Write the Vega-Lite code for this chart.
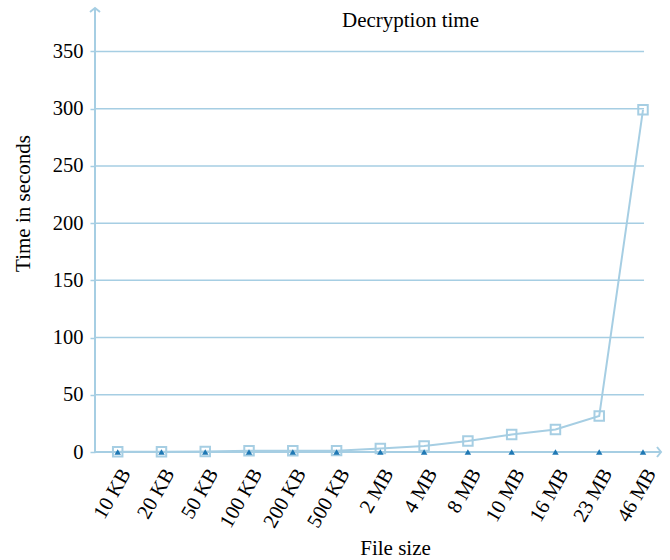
{
  "$schema": "https://vega.github.io/schema/vega-lite/v6.json",
  "width": 566,
  "height": 444,
  "autosize": {"type": "none"},
  "padding": {"left": 95, "top": 8, "right": 9, "bottom": 108},
  "background": "white",
  "config": {
    "view": {"stroke": null},
    "font": "Liberation Serif",
    "axisY": {
      "domain": false,
      "grid": false,
      "ticks": true,
      "tickSize": 5,
      "tickColor": "#a6cee3",
      "tickWidth": 1.5,
      "labelFont": "Liberation Serif",
      "labelFontSize": 20.5,
      "labelColor": "black",
      "labelPadding": 7,
      "titleFont": "Liberation Serif",
      "titleFontSize": 21,
      "titleFontWeight": "normal",
      "titleColor": "black",
      "titleAngle": -90,
      "titleAlign": "center",
      "titleBaseline": "middle",
      "titleX": -72,
      "titleY": 195
    },
    "axisX": {
      "domain": false,
      "grid": false,
      "ticks": false,
      "labelFont": "Liberation Serif",
      "labelFontSize": 20.5,
      "labelColor": "black",
      "labelAngle": -60,
      "labelAlign": "right",
      "labelBaseline": "middle",
      "labelPadding": 18,
      "labelOffset": 8,
      "titleFont": "Liberation Serif",
      "titleFontSize": 21,
      "titleFontWeight": "normal",
      "titleColor": "black",
      "titleAlign": "center",
      "titleBaseline": "alphabetic",
      "titleX": 300,
      "titleY": 102
    }
  },
  "datasets": {
    "timings": [
      {"size": "10 KB", "method": "Method 1", "time": 0.2},
      {"size": "20 KB", "method": "Method 1", "time": 0.3},
      {"size": "50 KB", "method": "Method 1", "time": 0.4},
      {"size": "100 KB", "method": "Method 1", "time": 1.0},
      {"size": "200 KB", "method": "Method 1", "time": 1.1},
      {"size": "500 KB", "method": "Method 1", "time": 1.2},
      {"size": "2 MB", "method": "Method 1", "time": 3.0},
      {"size": "4 MB", "method": "Method 1", "time": 5.3},
      {"size": "8 MB", "method": "Method 1", "time": 9.7},
      {"size": "10 MB", "method": "Method 1", "time": 15.2},
      {"size": "16 MB", "method": "Method 1", "time": 19.6},
      {"size": "23 MB", "method": "Method 1", "time": 31.5},
      {"size": "46 MB", "method": "Method 1", "time": 299},
      {"size": "10 KB", "method": "Method 2", "time": 0},
      {"size": "20 KB", "method": "Method 2", "time": 0},
      {"size": "50 KB", "method": "Method 2", "time": 0},
      {"size": "100 KB", "method": "Method 2", "time": 0},
      {"size": "200 KB", "method": "Method 2", "time": 0},
      {"size": "500 KB", "method": "Method 2", "time": 0},
      {"size": "2 MB", "method": "Method 2", "time": 0},
      {"size": "4 MB", "method": "Method 2", "time": 0},
      {"size": "8 MB", "method": "Method 2", "time": 0},
      {"size": "10 MB", "method": "Method 2", "time": 0},
      {"size": "16 MB", "method": "Method 2", "time": 0},
      {"size": "23 MB", "method": "Method 2", "time": 0},
      {"size": "46 MB", "method": "Method 2", "time": 0}
    ],
    "gridlines": [
      {"time": 50}, {"time": 100}, {"time": 150}, {"time": 200},
      {"time": 250}, {"time": 300}, {"time": 350}
    ]
  },
  "layer": [
    {
      "data": {"name": "gridlines"},
      "mark": {"type": "rule", "color": "#a6cee3", "strokeWidth": 1.5},
      "encoding": {
        "y": {
          "field": "time",
          "type": "quantitative",
          "title": "Time in seconds",
          "scale": {"domain": [0, 388], "nice": false},
          "axis": {"values": [0, 50, 100, 150, 200, 250, 300, 350]}
        },
        "x": {
          "datum": 0,
          "type": "quantitative",
          "scale": {"domain": [0, 1]},
          "axis": {
            "orient": "top",
            "title": "Decryption time",
            "labels": false,
            "ticks": false,
            "domain": false,
            "grid": false,
            "titleFontSize": 21,
            "titleAlign": "center",
            "titleBaseline": "alphabetic",
            "titleX": 315,
            "titleY": 18
          }
        },
        "x2": {"datum": 0.97}
      }
    },
    {
      "data": {"values": [{}]},
      "mark": {"type": "rule", "color": "#a6cee3", "strokeWidth": 2},
      "encoding": {
        "x": {"datum": 0, "type": "quantitative", "scale": {"domain": [0, 1]}, "axis": null},
        "y": {"datum": 0, "type": "quantitative"},
        "y2": {"datum": 388}
      }
    },
    {
      "data": {"values": [{}]},
      "mark": {"type": "rule", "color": "#a6cee3", "strokeWidth": 2},
      "encoding": {
        "x": {"datum": 0, "type": "quantitative", "scale": {"domain": [0, 1]}, "axis": null},
        "x2": {"datum": 1},
        "y": {"datum": 0, "type": "quantitative"}
      }
    },
    {
      "data": {"values": [{}]},
      "mark": {
        "type": "point",
        "shape": "M-1,0.8L0,0L1,0.8",
        "size": 100,
        "filled": false,
        "stroke": "#a6cee3",
        "strokeWidth": 2,
        "opacity": 1,
        "clip": false
      },
      "encoding": {
        "x": {"datum": 0, "type": "quantitative", "scale": {"domain": [0, 1]}, "axis": null},
        "y": {"datum": 388, "type": "quantitative"}
      }
    },
    {
      "data": {"values": [{}]},
      "mark": {
        "type": "point",
        "shape": "M-0.8,-1L0,0L-0.8,1",
        "size": 100,
        "filled": false,
        "stroke": "#a6cee3",
        "strokeWidth": 2,
        "opacity": 1,
        "clip": false
      },
      "encoding": {
        "x": {"datum": 1, "type": "quantitative", "scale": {"domain": [0, 1]}, "axis": null},
        "y": {"datum": 0, "type": "quantitative"}
      }
    },
    {
      "data": {"name": "timings"},
      "encoding": {
        "x": {
          "field": "size",
          "type": "ordinal",
          "sort": null,
          "title": "File size",
          "scale": {"type": "point", "range": [22.7, 548], "padding": 0}
        },
        "y": {"field": "time", "type": "quantitative", "title": "Time in seconds"}
      },
      "layer": [
        {
          "transform": [{"filter": "datum.method === 'Method 1'"}],
          "mark": {"type": "line", "color": "#a6cee3", "strokeWidth": 2}
        },
        {
          "transform": [{"filter": "datum.method === 'Method 1'"}],
          "mark": {
            "type": "point",
            "shape": "square",
            "size": 90,
            "filled": false,
            "stroke": "#a6cee3",
            "strokeWidth": 2,
            "opacity": 1
          }
        },
        {
          "transform": [{"filter": "datum.method === 'Method 2'"}],
          "mark": {
            "type": "point",
            "shape": "triangle-up",
            "size": 42,
            "filled": true,
            "color": "#1f78b4",
            "opacity": 1
          }
        }
      ]
    }
  ],
  "resolve": {"scale": {"x": "independent"}}
}
